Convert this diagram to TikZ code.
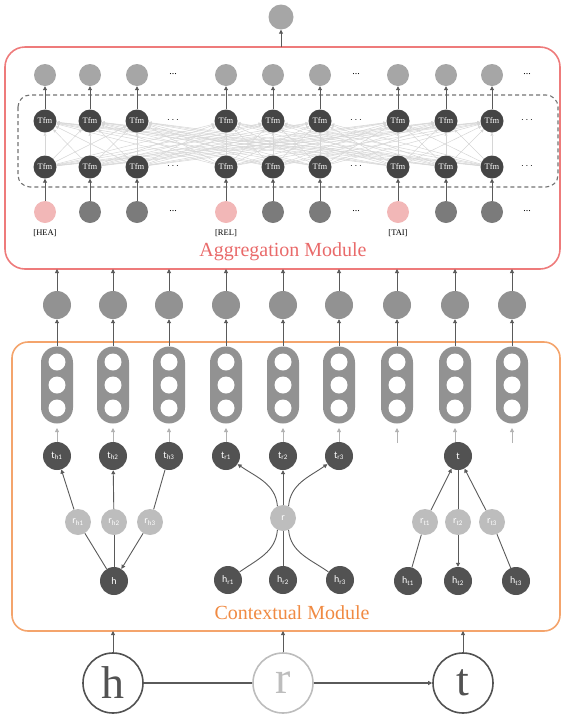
\documentclass[tikz,border=0pt]{standalone}
\usepackage{fontspec}
\setmainfont{Liberation Serif}
\setsansfont{Carlito}
\usepackage{xcolor}
\usepackage{tikz}
\usetikzlibrary{backgrounds}
\usetikzlibrary{calc}
\usetikzlibrary{arrows.meta}

\definecolor{aggred}{HTML}{EE7B7B}
\definecolor{aggtext}{HTML}{E96A6A}
\definecolor{ctxorange}{HTML}{F4A46C}
\definecolor{ctxtext}{HTML}{F08A42}
\definecolor{arrowgray}{HTML}{5A5A5A}
\definecolor{nodedark}{HTML}{525252}
\definecolor{nodelight}{HTML}{BDBDBD}
\definecolor{tfmdark}{HTML}{454545}
\definecolor{outgray}{HTML}{A6A6A6}
\definecolor{ingray}{HTML}{7B7B7B}
\definecolor{inpink}{HTML}{F2B7B7}
\definecolor{pillgray}{HTML}{929292}

\tikzset{
	dark/.style = {circle, fill = nodedark, text = white, minimum size = 28pt, inner sep = 0pt, font = \sffamily\fontsize{10}{10}\selectfont},
	light/.style = {circle, fill = nodelight, text = white, minimum size = 26pt, inner sep = 0pt, font = \sffamily\fontsize{10}{10}\selectfont},
	tfm/.style = {circle, fill = tfmdark, text = white, minimum size = 23pt, inner sep = 0pt, font = \fontsize{8.5}{8.5}\selectfont},
	dotc/.style = {circle, minimum size = 22pt, inner sep = 0pt},
	pill/.style = {rectangle, rounded corners = 16pt, fill = pillgray, minimum width = 32pt, minimum height = 77pt},
	cell/.style = {circle, fill = white, minimum size = 17pt, inner sep = 0pt},
	emb/.style = {circle, fill = pillgray, minimum size = 28pt, inner sep = 0pt},
	big/.style = {circle, line width = 1.6pt, minimum size = 60pt, inner sep = 0pt, font = \fontsize{46}{46}\selectfont},
	link/.style = {arrowgray, line width = 0.9pt},
	mesh/.style = {black!16, line width = 0.5pt},
	tag/.style = {font = \fontsize{8.5}{8.5}\selectfont, inner sep = 0pt},
	dots/.style = {font = \fontsize{10}{10}\selectfont, inner sep = 0pt}
}

\begin{document}
\begin{tikzpicture}[x = 1pt, y = 1pt, >={Triangle[length = 4pt, width = 4pt]}]
		\useasboundingbox (0,0) rectangle (564,-721);
		% aggregation module
		\draw[aggred, line width = 1.6pt, rounded corners = 20pt] (5,-47) rectangle (560,-269);
		\draw[gray!90!black, line width = 1.1pt, dash pattern = on 4pt off 3pt, rounded corners = 12pt] (18,-95) rectangle (558,-187);
		\node[dotc, fill = outgray, minimum size = 25pt] (score) at (281,-17) {};
		\coordinate (aggtop) at (281,-47);
		\draw[link, ->] (aggtop) -- (score);
		\foreach \x/\c [count = \i] in {45/inpink,90/ingray,137/ingray,226/inpink,273/ingray,320/ingray,398/inpink,446/ingray,492/ingray}{
			\node[dotc, fill = outgray] (o\i) at (\x,-75) {};
			\node[tfm] (u\i) at (\x,-121) {Tfm};
			\node[tfm] (l\i) at (\x,-167) {Tfm};
			\node[dotc, fill = \c] (e\i) at (\x,-212) {};
			\draw[link, ->] (u\i) -- (o\i);
			\draw[link, ->] (e\i) -- (l\i);
		}
		\begin{scope}[on background layer]
			\foreach \a in {1,...,9}{
				\foreach \b in {1,...,9}{
					\draw[mesh, -{Triangle[length = 3pt, width = 3pt]}] (l\a) -- (u\b);
				}
			}
		\end{scope}
		\foreach \x [count = \k] in {173,356,527}{
			\node[dots] (dot\k) at (\x,-74) {...};
			\node[dots] (dou\k) at (\x,-120) {$\cdots$};
			\node[dots] (dol\k) at (\x,-166) {$\cdots$};
			\node[dots] (doe\k) at (\x,-211) {...};
		}
		\node[tag] (hea) at (45,-233) {[HEA]};
		\node[tag] (rel) at (226,-233) {[REL]};
		\node[tag] (tai) at (398,-233) {[TAI]};
		\node[aggtext, font = \fontsize{20}{20}\selectfont] (agglabel) at (283,-252) {Aggregation Module};
		% contextual module
		\draw[ctxorange, line width = 1.6pt, rounded corners = 16pt] (12,-342) rectangle (560,-631);
		\foreach \x [count = \i] in {57,113,169,226,283,339,397,455,512}{
			\node[pill] (p\i) at (\x,-385) {};
			\foreach \k/\y in {1/-362,2/-385,3/-408}{
				\node[cell] (p\i c\k) at (\x,\y) {};
			}
			\node[emb] (m\i) at (\x,-305) {};
			\coordinate (a\i) at (\x,-269);
			\coordinate (f\i) at (\x,-443);
			\coordinate (g\i) at (\x,-428);
			\draw[link, ->] (p\i) -- (m\i);
			\draw[link, ->] (m\i) -- (a\i);
			\draw[black!30, line width = 0.9pt, ->] (f\i) -- (g\i);
		}
		\node[dark] (th1) at (57,-456) {t\textsubscript{h1}};
		\node[dark] (th2) at (113,-456) {t\textsubscript{h2}};
		\node[dark] (th3) at (169,-456) {t\textsubscript{h3}};
		\node[light] (rh1) at (78,-522) {r\textsubscript{h1}};
		\node[light] (rh2) at (114,-522) {r\textsubscript{h2}};
		\node[light] (rh3) at (150,-522) {r\textsubscript{h3}};
		\node[dark] (h) at (114,-581) {h};
		\draw[link] (h) -- (rh1);
		\draw[link, ->] (rh1) -- (th1);
		\draw[link] (h) -- (rh2);
		\draw[link, ->] (rh2) -- (th2);
		\draw[link] (th3) -- (rh3);
		\draw[link, ->] (rh3) -- (h);
		\node[dark] (tr1) at (226,-456) {t\textsubscript{r1}};
		\node[dark] (tr2) at (283,-456) {t\textsubscript{r2}};
		\node[dark] (tr3) at (339,-456) {t\textsubscript{r3}};
		\node[light] (r) at (283,-518) {r};
		\node[dark] (hr1) at (228,-580) {h\textsubscript{r1}};
		\node[dark] (hr2) at (283,-580) {h\textsubscript{r2}};
		\node[dark] (hr3) at (340,-580) {h\textsubscript{r3}};
		\draw[link, ->] (r) -- (tr2);
		\draw[link, ->] (r.115) to[out = 95, in = -35] (tr1);
		\draw[link, ->] (r.65) to[out = 85, in = -145] (tr3);
		\draw[link] (hr2) -- (r);
		\draw[link] (hr1) to[out = 35, in = -95] (r.-115);
		\draw[link] (hr3) to[out = 145, in = -85] (r.-65);
		\node[dark] (t) at (458,-456) {t};
		\node[light] (rt1) at (425,-522) {r\textsubscript{t1}};
		\node[light] (rt2) at (458,-522) {r\textsubscript{t2}};
		\node[light] (rt3) at (492,-522) {r\textsubscript{t3}};
		\node[dark] (ht1) at (408,-581) {h\textsubscript{t1}};
		\node[dark] (ht2) at (458,-581) {h\textsubscript{t2}};
		\node[dark] (ht3) at (516,-581) {h\textsubscript{t3}};
		\draw[link] (ht1) -- (rt1);
		\draw[link, ->] (rt1) -- (t);
		\draw[link] (t) -- (rt2);
		\draw[link, ->] (rt2) -- (ht2);
		\draw[link] (ht3) -- (rt3);
		\draw[link, ->] (rt3) -- (t);
		\node[ctxtext, font = \fontsize{20}{20}\selectfont] (ctxlabel) at (292,-613) {Contextual Module};
		% triple
		\node[big, draw = nodedark, text = nodedark] (H) at (113,-683) {h};
		\node[big, draw = nodelight, text = nodelight] (R) at (283,-683) {r};
		\node[big, draw = nodedark, text = nodedark] (T) at (463,-683) {t};
		\draw[link, line width = 1.4pt] (H) -- (R);
		\draw[link, line width = 1.4pt, ->] (R) -- (T);
		\foreach \n/\x in {H/113,R/283,T/463}{
			\coordinate (b\n) at (\x,-631);
			\draw[link, ->] (\n) -- (b\n);
		}
	\end{tikzpicture}
\end{document}
